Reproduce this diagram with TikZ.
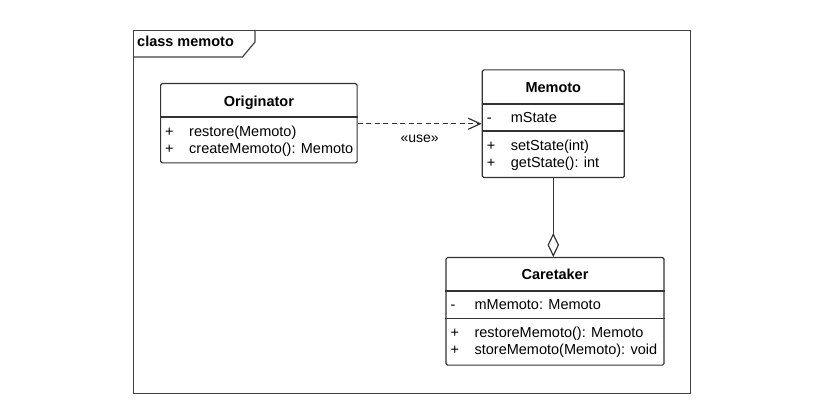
\documentclass[tikz,border=0pt]{standalone}
\usepackage{fontspec}
\setmainfont{Liberation Sans}
\usetikzlibrary{arrows.meta,positioning}

\newcommand{\umlvis}[1]{\makebox[24pt][l]{#1}}

\tikzset{
	umltext/.style={inner sep=0pt, text height=10.5pt, text depth=3pt},
	framebox/.style={draw=black!75, line width=1.2pt, inner sep=0pt, anchor=north west},
	framepen/.style={draw=black!75, line width=1.2pt},
	framename/.style={umltext, anchor=west, font=\fontsize{14.5}{17}\selectfont\bfseries},
	classbox/.style={draw=black!80, line width=1.2pt, rounded corners=1.5pt, inner sep=0pt, anchor=north west},
	classline/.style={draw=black!80, line width=1.2pt},
	classname/.style={umltext, font=\fontsize{14.5}{17}\selectfont\bfseries},
	member/.style={umltext, anchor=west, font=\fontsize{14.5}{17}\selectfont},
	usearrow/.style={classline, dash pattern=on 5pt off 3.5pt, -{Straight Barb[length=12pt, width=11pt]}},
	uselabel/.style={umltext, font=\fontsize{14}{17}\selectfont}
}

\begin{document}
\begin{tikzpicture}[x=1pt, y=-1pt]
	\useasboundingbox (0,0) rectangle (823,401);

	\node[framebox, minimum width=557pt, minimum height=363pt] (frame) at (133,30) {};
	\draw[framepen] ([yshift=-27pt]frame.north west) -- ++(109.5,0) -- ++(12.5,-15) -- ++(0,-12);
	\node[framename] (framelabel) at ([xshift=4pt,yshift=-12.5pt]frame.north west) {class memoto};

	\node[classbox, minimum width=196.5pt, minimum height=79.3pt] (orig) at (160,83) {};
	\draw[classline] ([yshift=-34pt]orig.north west) -- ([yshift=-34pt]orig.north east);
	\node[classname] (origname) at ([yshift=-19.5pt]orig.north) {Originator};
	\node[member] (origop1) at ([xshift=5pt,yshift=-49.5pt]orig.north west) {\umlvis{+}restore(Memoto)};
	\node[member] (origop2) at ([xshift=5pt,yshift=-67pt]orig.north west) {\umlvis{+}createMemoto(): Memoto};

	\node[classbox, minimum width=142pt, minimum height=107.7pt] (memoto) at (481.7,69.3) {};
	\draw[classline] ([yshift=-34.7pt]memoto.north west) -- ([yshift=-34.7pt]memoto.north east);
	\draw[classline] ([yshift=-61.7pt]memoto.north west) -- ([yshift=-61.7pt]memoto.north east);
	\node[classname] (memotoname) at ([yshift=-19.5pt]memoto.north) {Memoto};
	\node[member] (memotoattr) at ([xshift=5pt,yshift=-49pt]memoto.north west) {\umlvis{-}mState};
	\node[member] (memotoop1) at ([xshift=5pt,yshift=-77pt]memoto.north west) {\umlvis{+}setState(int)};
	\node[member] (memotoop2) at ([xshift=5pt,yshift=-94pt]memoto.north west) {\umlvis{+}getState(): int};

	\node[classbox, minimum width=218pt, minimum height=107.5pt] (care) at (445.4,257) {};
	\draw[classline] ([yshift=-34pt]care.north west) -- ([yshift=-34pt]care.north east);
	\draw[classline] ([yshift=-61.5pt]care.north west) -- ([yshift=-61.5pt]care.north east);
	\node[classname] (carename) at ([yshift=-19pt]care.north) {Caretaker};
	\node[member] (careattr) at ([xshift=5pt,yshift=-49pt]care.north west) {\umlvis{-}mMemoto: Memoto};
	\node[member] (careop1) at ([xshift=5pt,yshift=-76.5pt]care.north west) {\umlvis{+}restoreMemoto(): Memoto};
	\node[member] (careop2) at ([xshift=5pt,yshift=-94pt]care.north west) {\umlvis{+}storeMemoto(Memoto): void};

	\draw[usearrow] (orig.east |- memoto.west) -- (memoto.west) node[uselabel, midway, below=8pt] (uselbl) {«use»};
	\draw[classline, -{Diamond[open, length=24pt, width=11.5pt, fill=white]}] (memoto.south) -- (memoto.south |- care.north);
\end{tikzpicture}
\end{document}
